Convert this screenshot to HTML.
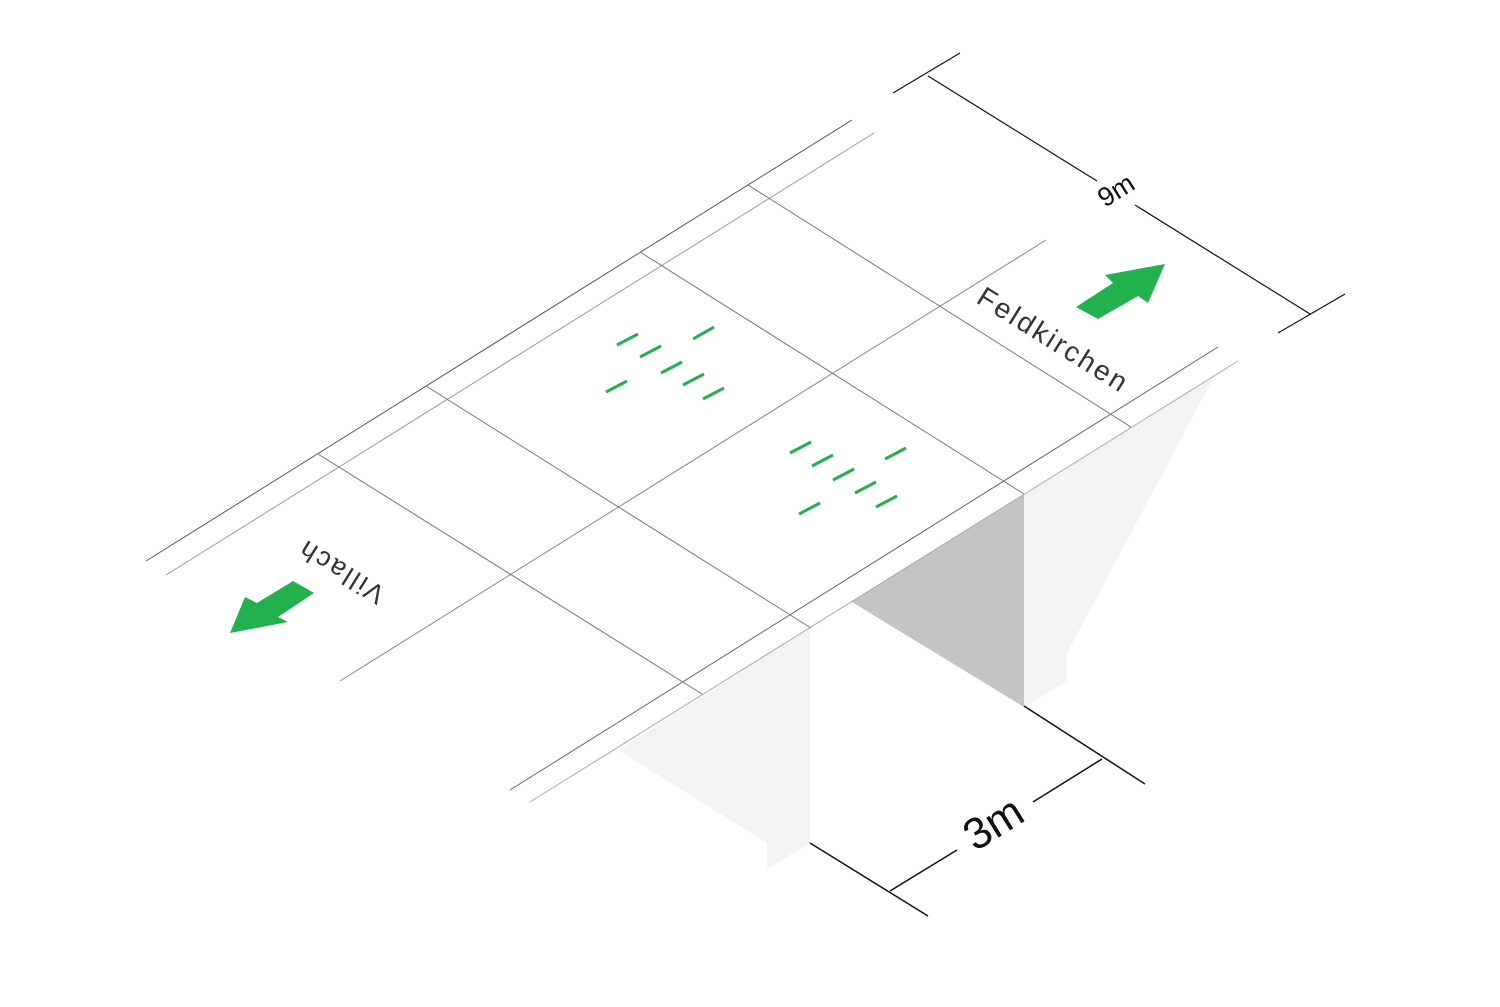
<!DOCTYPE html>
<html><head><meta charset="utf-8"><style>
html,body{margin:0;padding:0;background:#fff}
svg{display:block}
text{font-family:"Liberation Sans",sans-serif}
</style></head><body>
<svg width="1500" height="1007" viewBox="0 0 1500 1007">
<g>
<polygon points="852,602 1024,494 1024,707" fill="#c4c4c4"/>
<polygon points="1024,494 1215,375 1067,653 1067,681 1024,707" fill="#f3f3f3"/>
<polygon points="618,750 810,628 810,843 767,869 767,843" fill="#f3f3f3"/>
</g>
<g fill="none">
<line x1="146" y1="561" x2="852" y2="120" stroke="#555" stroke-width="1"/>
<line x1="166" y1="575" x2="874" y2="133" stroke="#999" stroke-width="1"/>
<line x1="340" y1="681" x2="1046" y2="240" stroke="#888" stroke-width="1"/>
<line x1="510" y1="790" x2="1218" y2="347" stroke="#666" stroke-width="1"/>
<line x1="530" y1="802" x2="1238" y2="361" stroke="#aaa" stroke-width="1"/>
<line x1="318" y1="454" x2="702" y2="694" stroke="#777" stroke-width="1"/>
<line x1="426" y1="386" x2="811" y2="628" stroke="#777" stroke-width="1"/>
<line x1="640" y1="252" x2="1024" y2="494" stroke="#777" stroke-width="1"/>
<line x1="748" y1="185" x2="1131" y2="427" stroke="#777" stroke-width="1"/>
</g>
<g stroke="#22b14c" stroke-width="3" stroke-linecap="butt">
<line x1="617" y1="345" x2="638" y2="334"/><line x1="693" y1="339" x2="714" y2="327"/>
<line x1="640" y1="357" x2="661" y2="346"/><line x1="661" y1="373" x2="682" y2="362"/>
<line x1="683" y1="385" x2="704" y2="374"/><line x1="606" y1="392" x2="627" y2="381"/>
<line x1="703" y1="399" x2="724" y2="388"/>
<line x1="790" y1="453" x2="811" y2="442"/><line x1="812" y1="466" x2="833" y2="455"/>
<line x1="833" y1="480" x2="854" y2="469"/><line x1="885" y1="459" x2="906" y2="448"/>
<line x1="855" y1="493" x2="876" y2="482"/><line x1="799" y1="514" x2="820" y2="503"/>
<line x1="876" y1="507" x2="897" y2="496"/>
</g>
<polygon points="1076,307 1113,283 1105,275 1165,264 1148,303 1138,296 1098,319" fill="#22b14c"/>
<polygon points="230,633 245,597 257,603 293,581 314,593 278,617 288,622" fill="#22b14c"/>
<text x="0" y="0" font-size="28" fill="#333" letter-spacing="2.6" transform="translate(975,302) rotate(32)">Feldkirchen</text>
<text x="0" y="0" font-size="27" fill="#333" letter-spacing="2.5" text-anchor="middle" transform="translate(342,570) rotate(212)" dominant-baseline="middle">Villach</text>
<g stroke="#111" stroke-width="1.2">
<line x1="893" y1="93" x2="960" y2="53"/>
<line x1="1278" y1="333" x2="1345" y2="294"/>
<line x1="928" y1="76" x2="1097" y2="181"/>
<line x1="1135" y1="205" x2="1310" y2="314"/>
</g>
<text font-size="27" fill="#111" text-anchor="middle" dominant-baseline="middle" transform="translate(1117,192) rotate(-32)">9m</text>
<g stroke="#111" stroke-width="1.5">
<line x1="1024" y1="706" x2="1145" y2="784"/>
<line x1="810" y1="843" x2="928" y2="916"/>
<line x1="890" y1="891" x2="957" y2="850"/>
<line x1="1033" y1="802" x2="1102" y2="759"/>
</g>
<text font-size="44" fill="#111" text-anchor="middle" dominant-baseline="middle" transform="translate(995,826) rotate(-32)">3m</text>
</svg>
</body></html>
